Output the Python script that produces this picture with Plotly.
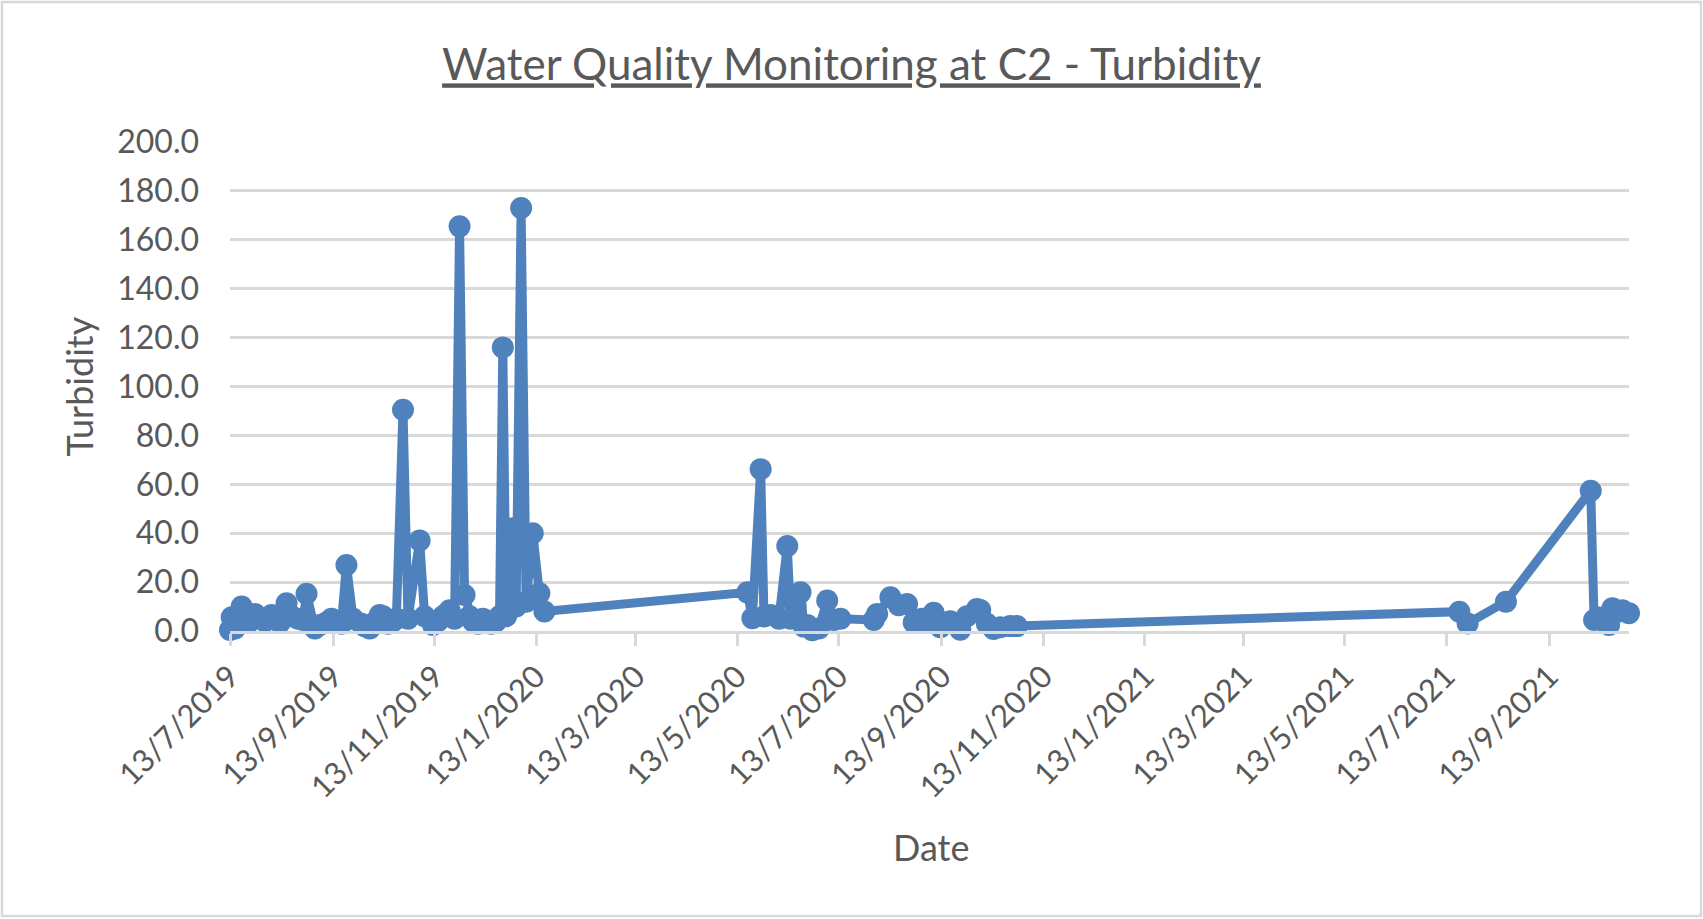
import plotly.graph_objects as go

# Turbidity readings at monitoring site C2
dates = [
    "2019-07-13", "2019-07-14", "2019-07-16", "2019-07-18", "2019-07-20",
    "2019-07-22", "2019-07-25", "2019-07-28", "2019-07-31", "2019-08-03",
    "2019-08-07", "2019-08-10", "2019-08-12", "2019-08-16", "2019-08-19",
    "2019-08-23", "2019-08-26", "2019-08-28", "2019-09-02", "2019-09-05",
    "2019-09-09", "2019-09-12", "2019-09-15", "2019-09-18", "2019-09-21",
    "2019-09-25", "2019-09-30", "2019-10-02", "2019-10-05", "2019-10-08",
    "2019-10-11", "2019-10-13", "2019-10-16", "2019-10-19", "2019-10-21",
    "2019-10-25", "2019-10-28", "2019-11-04", "2019-11-07", "2019-11-12",
    "2019-11-15", "2019-11-18", "2019-11-20", "2019-11-22", "2019-11-25",
    "2019-11-28", "2019-12-01", "2019-12-04", "2019-12-06", "2019-12-09",
    "2019-12-12", "2019-12-15", "2019-12-17", "2019-12-20", "2019-12-22",
    "2019-12-24", "2019-12-26", "2019-12-30", "2020-01-01", "2020-01-04",
    "2020-01-07", "2020-01-11", "2020-01-15", "2020-01-18",
    "2020-05-19", "2020-05-22", "2020-05-27", "2020-05-29", "2020-06-02",
    "2020-06-07", "2020-06-12", "2020-06-14", "2020-06-17", "2020-06-20",
    "2020-06-22", "2020-06-24", "2020-06-27", "2020-07-01", "2020-07-06",
    "2020-07-10", "2020-07-14", "2020-08-03", "2020-08-05", "2020-08-13",
    "2020-08-18", "2020-08-23", "2020-08-27", "2020-09-01", "2020-09-04",
    "2020-09-08", "2020-09-12", "2020-09-18", "2020-09-24", "2020-09-28",
    "2020-10-04", "2020-10-06", "2020-10-10", "2020-10-14", "2020-10-18",
    "2020-10-24", "2020-10-28",
    "2021-07-21", "2021-07-26", "2021-08-18", "2021-10-08", "2021-10-10",
    "2021-10-13", "2021-10-16", "2021-10-19", "2021-10-21", "2021-10-25",
    "2021-10-27", "2021-10-31",
]
turbidity = [
    0.4, 5.6, 1.0, 3.0, 10.0,
    6.0, 4.0, 7.0, 5.0, 4.0,
    6.5, 5.5, 3.5, 11.3, 6.0,
    5.0, 4.5, 15.2, 1.0, 2.5,
    3.5, 5.0, 4.0, 3.0, 27.0,
    5.0, 3.0, 2.0, 1.0, 3.5,
    6.5, 6.0, 3.0, 4.0, 5.0,
    90.5, 5.0, 37.0, 6.0, 2.5,
    4.0, 6.0, 7.0, 8.5, 5.0,
    165.5, 14.7, 6.0, 4.0, 3.0,
    5.0, 4.0, 3.0, 4.0, 6.0,
    116.0, 6.0, 42.0, 10.0, 173.0,
    12.0, 40.0, 15.4, 8.0,
    15.8, 5.2, 66.2, 5.9, 6.5,
    5.0, 34.8, 5.0, 10.0, 15.8,
    1.8, 2.5, 0.3, 1.0, 12.5,
    4.5, 5.0, 4.5, 7.0, 13.8,
    10.5, 11.0, 3.5, 5.0, 4.0,
    7.5, 1.5, 4.0, 0.5, 6.0,
    9.0, 8.6, 3.0, 0.8, 1.5,
    2.0, 2.0,
    7.9, 3.1, 12.0, 57.4, 4.5,
    5.5, 4.0, 2.5, 9.3, 8.0,
    8.5, 7.3,
]

tick_dates = [
    "2019-07-13", "2019-09-13", "2019-11-13", "2020-01-13", "2020-03-13",
    "2020-05-13", "2020-07-13", "2020-09-13", "2020-11-13", "2021-01-13",
    "2021-03-13", "2021-05-13", "2021-07-13", "2021-09-13",
]
tick_labels = [
    "13/7/2019", "13/9/2019", "13/11/2019", "13/1/2020", "13/3/2020",
    "13/5/2020", "13/7/2020", "13/9/2020", "13/11/2020", "13/1/2021",
    "13/3/2021", "13/5/2021", "13/7/2021", "13/9/2021",
]
x_range = ["2019-07-13", "2021-10-31"]

W, H = 1703, 919
L, R, T, B = 230, 74, 142, 288
PW, PH = W - L - R, H - T - B

BLUE = "#4F81BD"
TEXT = "#595959"
GRID = "#D9D9D9"
FONT = "Lato"


def px_x(p):
    return (p - L) / PW


def px_y(p):
    return (H - B - p) / PH


fig = go.Figure(
    go.Scatter(
        x=dates,
        y=turbidity,
        mode="lines+markers",
        line=dict(color=BLUE, width=9),
        marker=dict(color=BLUE, size=22, line=dict(width=0)),
        cliponaxis=False,
        showlegend=False,
    )
)

fig.update_layout(
    width=W,
    height=H,
    margin=dict(l=L, r=R, t=T, b=B),
    paper_bgcolor="white",
    plot_bgcolor="white",
    font=dict(family=FONT, color=TEXT),
    title=dict(
        text="<u>Water Quality Monitoring at C2 - Turbidity</u>",
        xref="container",
        x=0.5,
        xanchor="center",
        yref="container",
        y=1 - 65 / H,
        yanchor="middle",
        font=dict(family=FONT, size=44, color=TEXT),
    ),
    xaxis=dict(
        type="date",
        range=x_range,
        tickvals=tick_dates,
        ticktext=tick_labels,
        tickangle=-45,
        tickfont=dict(family=FONT, size=31, color=TEXT),
        showgrid=False,
        showline=True,
        linecolor=GRID,
        linewidth=2.8,
        ticks="outside",
        ticklen=12,
        tickwidth=2.8,
        tickcolor=GRID,
        zeroline=False,
    ),
    yaxis=dict(
        range=[0, 200],
        dtick=20,
        tickformat=".1f",
        tickfont=dict(family=FONT, size=32, color=TEXT),
        showgrid=True,
        gridcolor=GRID,
        gridwidth=2.8,
        showline=False,
        zeroline=False,
        ticks="",
        ticklabelstandoff=30,
    ),
    annotations=[
        dict(
            text="Turbidity",
            xref="paper", yref="paper",
            x=px_x(78), y=0.5,
            xanchor="center", yanchor="middle",
            textangle=-90,
            showarrow=False,
            font=dict(family=FONT, size=36, color=TEXT),
        ),
        dict(
            text="Date",
            xref="paper", yref="paper",
            x=px_x(931), y=px_y(847),
            xanchor="center", yanchor="middle",
            showarrow=False,
            font=dict(family=FONT, size=36, color=TEXT),
        ),
    ],
    shapes=[
        dict(
            type="rect",
            xref="paper", yref="paper",
            x0=px_x(2), x1=px_x(W - 2),
            y0=px_y(H - 3), y1=px_y(2),
            line=dict(color=GRID, width=2.5),
            fillcolor="rgba(0,0,0,0)",
            layer="below",
        )
    ],
)

fig.write_html("out.html")
